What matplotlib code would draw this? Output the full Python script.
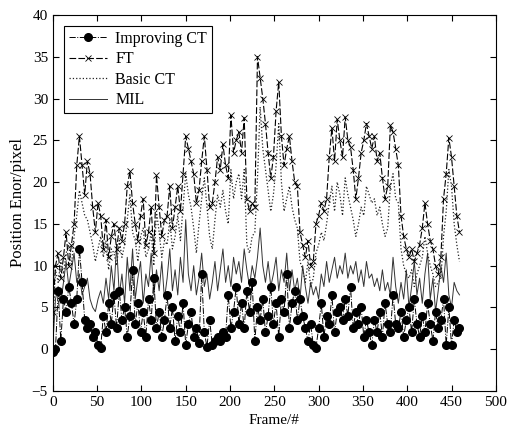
import numpy as np
import matplotlib
matplotlib.use("Agg")
import matplotlib.pyplot as plt

plt.rcParams["font.family"] = ["Liberation Serif", "DejaVu Serif"]
plt.rcParams["font.size"] = 10

# frame numbers (every 3rd frame)
frames = np.arange(0, 460, 3)

# FT tracker error
ft = [
    4.5, 10.0, 11.5, 8.5, 11.0, 14.0, 10.0, 12.5, 15.0, 22.0,
    25.5, 22.0, 18.5, 22.5, 21.0, 17.0, 14.0, 17.5, 16.0, 12.0,
    15.5, 11.0, 13.5, 15.0, 12.0, 14.5, 13.0, 15.0, 19.5, 21.3,
    17.5, 15.0, 13.0, 16.0, 18.0, 12.5, 14.0, 17.0, 11.5, 20.8,
    17.0, 13.5, 15.5, 16.0, 19.5, 14.5, 17.0, 19.5, 16.5, 21.0,
    25.5, 24.0, 22.5, 21.0, 17.5, 19.0, 22.5, 25.5, 21.5, 17.0,
    17.5, 20.0, 23.0, 21.5, 24.5, 22.0, 20.5, 28.0, 23.5, 25.0,
    26.0, 23.5, 27.7, 18.0, 16.5, 17.5, 17.0, 35.0, 32.5, 30.0,
    27.0, 23.5, 20.5, 23.0, 28.5, 32.0, 25.5, 22.0, 24.0, 25.5,
    22.5, 20.0, 19.5, 14.0, 12.5, 11.0, 13.0, 10.0, 10.5, 15.0,
    16.0, 17.5, 16.5, 18.0, 23.0, 26.5, 22.5, 27.5, 25.0, 23.0,
    27.8, 25.0, 24.2, 21.5, 18.0, 20.5, 23.5, 25.0, 27.0, 25.5,
    24.0, 25.5, 22.5, 23.5, 20.5, 18.0, 19.5, 26.8, 26.0, 24.0,
    22.0, 16.0, 13.5, 12.0, 11.0, 12.0, 10.5, 11.5, 12.5, 14.5,
    17.5, 15.0, 13.0, 12.0, 10.0, 9.0, 11.0, 18.0, 21.0, 25.3,
    23.0, 19.5, 16.0, 14.0,
]

# Basic CT tracker error
basic_ct = [
    3.0, 9.5, 8.0, 10.5, 9.0, 11.5, 12.5, 10.0, 13.5, 16.0,
    19.0, 17.5, 16.0, 15.5, 14.0, 12.5, 10.5, 12.0, 13.5, 11.0,
    13.0, 9.5, 12.0, 11.5, 10.0, 13.0, 11.0, 12.5, 15.5, 18.5,
    14.0, 13.0, 10.5, 13.5, 14.5, 11.0, 12.0, 14.0, 10.0, 16.5,
    14.0, 11.0, 13.0, 12.5, 15.5, 12.0, 13.5, 16.0, 13.0, 17.0,
    21.0, 18.5, 17.0, 14.5, 11.5, 15.0, 18.0, 20.5, 17.0, 13.5,
    12.0, 15.5, 18.5, 17.0, 19.0, 16.5, 15.0, 21.5, 18.0, 20.0,
    21.0, 18.0, 21.5, 12.5, 11.5, 13.5, 14.0, 20.5, 29.0, 24.0,
    21.5, 19.0, 16.5, 18.5, 22.0, 27.0, 20.0, 16.5, 18.0, 19.5,
    17.0, 15.5, 14.5, 10.5, 9.5, 8.0, 10.5, 7.5, 8.5, 11.5,
    12.5, 14.0, 13.0, 15.0, 17.5, 19.5, 16.5, 20.0, 18.5, 16.0,
    20.5, 18.5, 17.0, 15.5, 13.5, 15.0, 17.0, 16.0, 19.5, 18.5,
    17.5, 18.0, 16.0, 17.0, 15.0, 13.5, 14.5, 19.5, 21.0, 18.0,
    17.5, 12.0, 10.0, 9.0, 8.5, 9.5, 7.5, 9.0, 10.0, 11.0,
    13.5, 11.5, 10.0, 9.0, 7.5, 8.0, 8.5, 13.5, 16.5, 21.5,
    19.5, 15.0, 12.5, 10.5,
]

# MIL tracker error
mil = [
    0.5, 6.0, 7.5, 5.5, 8.0, 10.5, 7.5, 9.5, 11.5, 8.0,
    9.0, 6.5, 7.5, 8.5, 6.0, 5.0, 4.5, 6.0, 7.0, 5.5,
    8.5, 6.0, 10.0, 7.0, 12.5, 6.5, 9.0, 5.5, 11.0, 7.0,
    12.0, 6.0, 8.5, 10.5, 5.5, 9.0, 7.5, 11.5, 6.5, 9.5,
    7.0, 10.5, 6.0, 8.5, 12.0, 7.0, 9.5, 6.5, 11.0, 8.0,
    15.5, 9.0, 7.0, 10.0, 6.5, 8.5, 11.5, 7.5, 9.0, 6.0,
    8.0, 10.5, 7.0, 9.5, 12.0, 8.0, 10.0, 7.5, 11.0, 9.0,
    10.5, 8.0, 12.0, 9.5, 7.5, 10.0, 8.5, 11.0, 14.5, 10.0,
    8.0, 10.5, 7.5, 9.0, 11.0, 7.0, 9.5, 8.0, 11.5, 7.0,
    9.5, 7.0, 8.5, 6.0, 10.0, 7.5, 5.5, 8.0, 6.5, 7.5,
    6.0, 9.0, 7.5, 10.5, 8.0, 9.5, 11.0, 8.5, 10.0, 9.0,
    11.5, 8.5, 10.0, 9.0, 10.5, 8.0, 9.5, 7.5, 10.5, 8.5,
    9.0, 7.5, 8.5, 7.0, 9.5, 7.0, 8.0, 6.5, 11.0, 7.5,
    5.5, 8.0, 6.0, 9.5, 5.0, 7.5, 10.5, 6.5, 8.5, 5.5,
    9.0, 11.5, 6.0, 8.5, 4.5, 7.0, 10.0, 8.0, 11.5, 6.5,
    5.0, 8.0, 7.0, 6.5,
]

# Improving CT tracker error
improving_ct = [
    -0.3, 0.0, 7.0, 1.0, 6.0, 4.5, 7.5, 5.5, 3.0, 6.0,
    12.0, 8.0, 3.5, 2.5, 3.0, 1.5, 2.0, 0.5, 0.2, 4.0,
    2.0, 5.5, 3.0, 6.5, 2.5, 7.0, 3.5, 5.0, 1.5, 4.0,
    9.5, 3.0, 5.5, 2.0, 4.5, 1.5, 6.0, 3.5, 8.5, 2.5,
    4.5, 1.5, 3.5, 6.5, 2.5, 5.0, 1.0, 4.0, 2.0, 5.5,
    0.5, 3.0, 4.5, 1.5, 2.5, 0.8, 9.0, 2.0, 0.3, 3.5,
    0.5, 1.0, 1.5, 1.0, 2.0, 1.5, 6.5, 2.5, 4.5, 7.5,
    3.0, 5.5, 2.5, 7.0, 4.5, 8.0, 1.0, 5.0, 3.5, 6.0,
    2.0, 4.0, 7.5, 3.0, 5.5, 1.5, 6.0, 4.5, 9.0, 2.5,
    5.5, 7.0, 3.5, 6.0, 4.0, 2.5, 1.0, 3.0, 0.5, 0.2,
    2.5, 5.5, 1.5, 4.0, 3.0, 6.5, 2.0, 4.5, 5.0, 3.5,
    6.0, 4.0, 7.5, 2.5, 4.5, 3.0, 5.0, 1.5, 3.5, 2.0,
    0.5, 3.5, 2.0, 4.5, 1.5, 5.5, 3.0, 2.0, 6.5, 3.0,
    2.5, 4.5, 1.5, 3.5, 5.0, 2.0, 6.0, 3.0, 1.5, 4.0,
    2.0, 5.5, 3.0, 1.0, 4.5, 2.5, 3.5, 6.0, 0.5, 5.0,
    0.5, 3.5, 2.0, 2.5,
]

fig = plt.figure(figsize=(5.08, 4.29), dpi=100)
ax = fig.add_axes([0.104, 0.0886, 0.872, 0.8765])

# draw from back to front, dots on top
l_mil, = ax.plot(frames, mil, "-", color="#333333", lw=0.7, zorder=2)
l_basic, = ax.plot(frames, basic_ct, ":", color="#222222", lw=0.9, zorder=3)
l_ft, = ax.plot(frames, ft, "--", color="black", lw=0.8, marker="x",
                ms=4, mew=0.6, dashes=(6, 2), zorder=4)
l_imp, = ax.plot(frames, improving_ct, "-.", color="black", lw=0.7,
                 marker="o", ms=5.5, zorder=5)

ax.set_xlim(0, 500)
ax.set_ylim(-5, 40)
ax.set_xticks(np.arange(0, 501, 50))
ax.set_yticks(np.arange(-5, 41, 5))
ax.tick_params(direction="in", top=True, right=True, length=4, labelsize=11)
ax.set_xlabel("Frame/#", fontsize=11)
ax.set_ylabel("Position Enor/pixel", fontsize=12)

leg = ax.legend([l_imp, l_ft, l_basic, l_mil],
                ["Improving CT", "FT", "Basic CT", "MIL"],
                loc="upper left", fancybox=False, edgecolor="black",
                framealpha=1, fontsize=11.5, handlelength=2.4,
                borderpad=0.3, labelspacing=0.28, handletextpad=0.5,
                borderaxespad=0.7)
leg.get_frame().set_linewidth(0.8)

fig.savefig("out.png", dpi=100)
